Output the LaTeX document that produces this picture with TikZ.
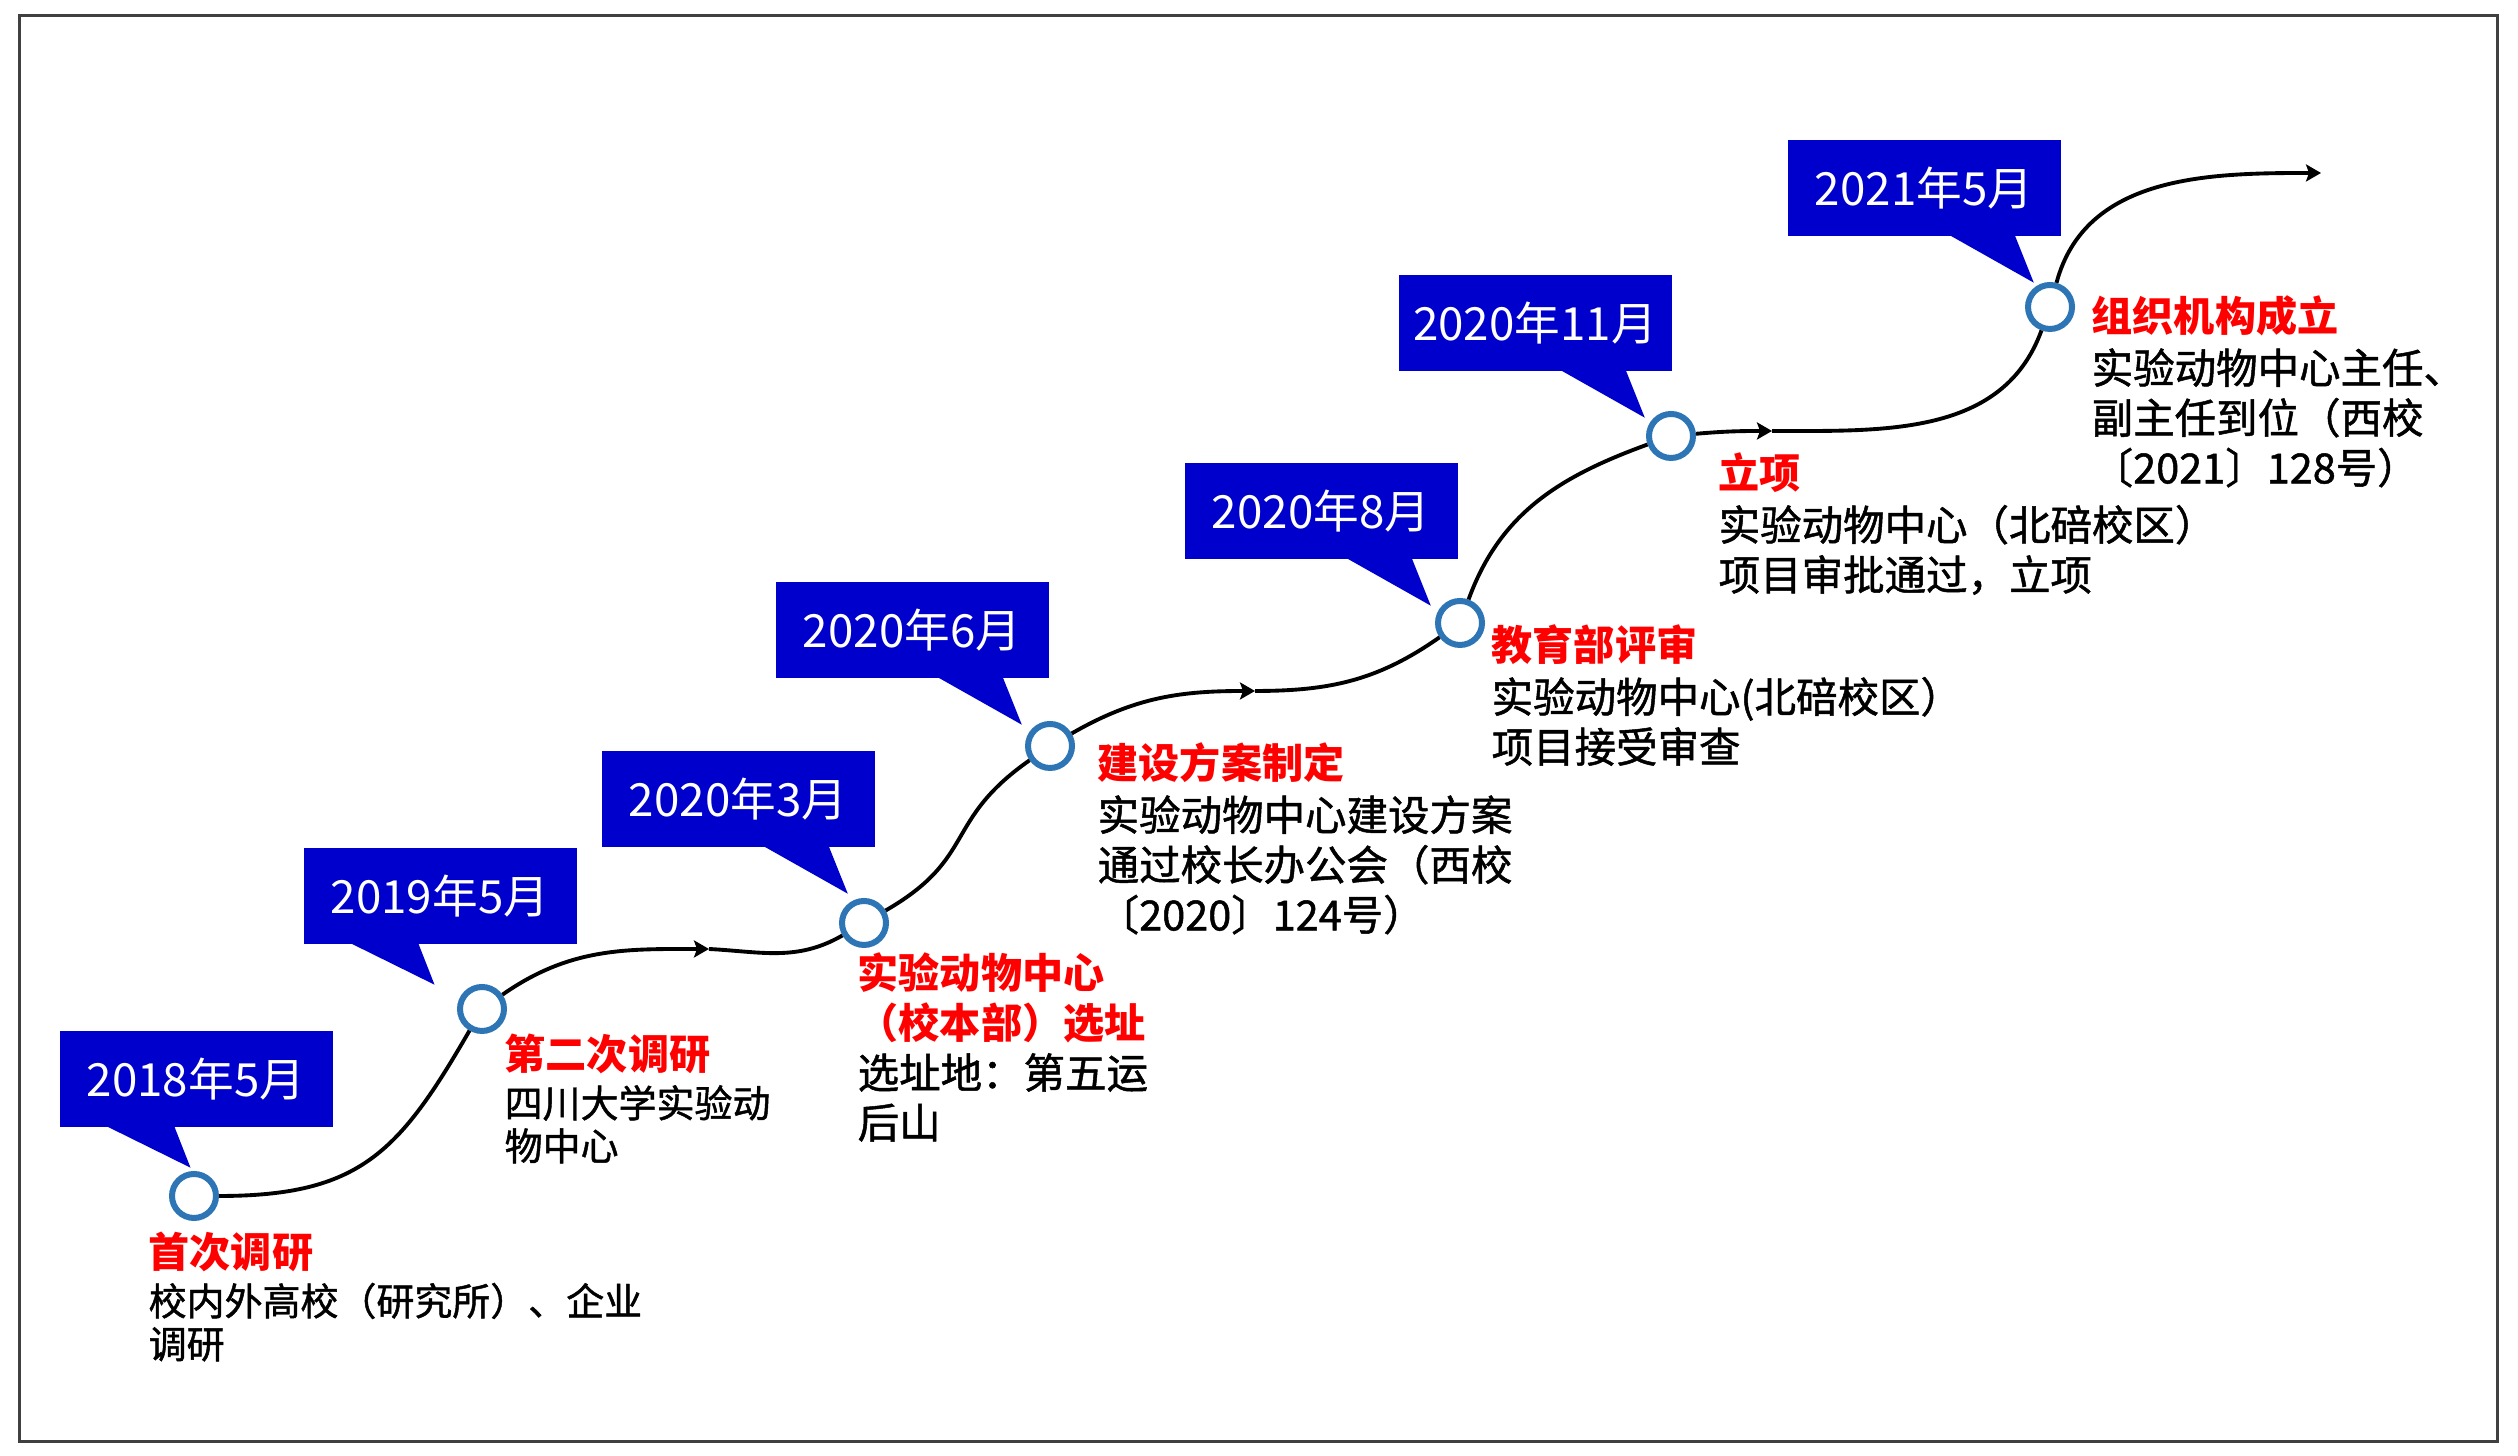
\documentclass[tikz,border=0pt]{standalone}
\usepackage{fontspec}
\usepackage{tikz}
\usetikzlibrary{arrows.meta,positioning,calc}
\newfontfamily\cjk{Noto Sans CJK SC}
\newfontfamily\cjkbody[FakeBold=1.2]{Noto Sans CJK SC}
\definecolor{dateblue}{RGB}{0, 0, 204}
\definecolor{ringblue}{RGB}{46, 117, 182}
\tikzset{
  datebox/.style={fill=dateblue, text=white, inner sep=0, minimum width=2.73cm, minimum height=0.96cm, font=\cjk\fontsize{13}{15}\selectfont},
  milestone/.style={circle, draw=ringblue, line width=0.06cm, fill=white, inner sep=0, minimum size=0.44cm},
  trail/.style={line width=1.1pt, black},
  stagenote/.style={anchor=north west, align=left, inner sep=0, font=\cjkbody\fontsize{11.8}{14.2}\selectfont},
  smallnote/.style={stagenote, font=\cjkbody\fontsize{10.8}{12.2}\selectfont},
  >={Stealth[length=1.5mm,width=1.7mm,inset=0.3mm]}
}
% red heading of a stage
\newcommand\hd[1]{{\cjk\color{red}\bfseries\fontsize{11.7}{14.2}\selectfont #1}}
% callout tails, left or right of the date box
\newcommand\tailL[1]{\fill[dateblue] ($(#1.south west)!0.17!(#1.south east)+(0,0.02)$) -- ($(#1.south west)!0.42!(#1.south east)+(0,0.02)$) -- ($(#1.south west)!0.48!(#1.south east)+(0,-0.40)$) -- cycle;}
\newcommand\tailR[1]{\fill[dateblue] ($(#1.south west)!0.59!(#1.south east)+(0,0.02)$) -- ($(#1.south west)!0.83!(#1.south east)+(0,0.02)$) -- ($(#1.south west)!0.90!(#1.south east)+(0,-0.46)$) -- cycle;}

\begin{document}
\begin{tikzpicture}
    \useasboundingbox (0,0) rectangle (25.18,14.56);
    % Frame
    \draw[line width=0.03cm, black!75] (0.19,0.14) rectangle (24.97,14.40);

    % Milestones
    \node[milestone] (c1) at (1.94,2.60) {};
    \node[milestone] (c2) at (4.82,4.47) {};
    \node[milestone] (c3) at (8.64,5.33) {};
    \node[milestone] (c4) at (10.50,7.10) {};
    \node[milestone] (c5) at (14.60,8.33) {};
    \node[milestone] (c6) at (16.71,10.20) {};
    \node[milestone] (c7) at (20.50,11.49) {};
    \coordinate (a1) at (7.09,5.07);
    \coordinate (a2) at (12.55,7.65);
    \coordinate (a3) at (17.72,10.25);
    \coordinate (tip) at (23.21,12.83);

    % Timeline
    \draw[trail] (c1) to[out=0,in=-120,looseness=1.2] (c2);
    \draw[trail,->] (c2) to[out=35,in=180] (a1);
    \draw[trail] (a1) to[out=-3,in=210] (c3);
    \draw[trail] (c3) to[out=30,in=215,looseness=1.3] (c4);
    \draw[trail,->] (c4) to[out=30,in=180] (a2);
    \draw[trail] (a2) to[out=0,in=215] (c5);
    \draw[trail] (c5) to[out=70,in=200] (c6);
    \draw[trail,->] (c6) to[out=5,in=180] (a3);
    \draw[trail] (a3) to[out=0,in=-110] (c7);
    \draw[trail,->] (c7) to[out=75,in=180] (tip);

    % Dates
    \node[datebox] (d1) at (1.96,3.77) {2018年5月};
    \tailL{d1}
    \node[datebox] (d2) at (4.40,5.60) {2019年5月};
    \tailL{d2}
    \node[datebox] (d3) at (7.38,6.57) {2020年3月};
    \tailR{d3}
    \node[datebox] (d4) at (9.12,8.26) {2020年6月};
    \tailR{d4}
    \node[datebox] (d5) at (13.21,9.45) {2020年8月};
    \tailR{d5}
    \node[datebox] (d6) at (15.35,11.33) {2020年11月};
    \tailR{d6}
    \node[datebox] (d7) at (19.24,12.68) {2021年5月};
    \tailR{d7}

    % Stage notes
    \node[smallnote] (t1) at (1.48,2.25) {\hd{首次调研}\\[1.5pt]校内外高校（研究所）、企业\\调研};
    \node[smallnote] (t2) at (5.04,4.23) {\hd{第二次调研}\\[1.5pt]四川大学实验动\\物中心};
    \node[stagenote] (t3) at (8.57,5.04) {\hd{实验动物中心}\\\hd{（校本部）选址}\\选址地：第五运\\后山};
    \node[stagenote] (t4) at (10.97,7.14) {\hd{建设方案制定}\\[0.6pt]实验动物中心建设方案\\通过校长办公会（西校\\〔2020〕124号）};
    \node[stagenote] (t5) at (14.91,8.32) {\hd{教育部评审}\\[0.6pt]实验动物中心(北碚校区）\\项目接受审查};
    \node[stagenote] (t6) at (17.18,10.04) {\hd{立项}\\[0.6pt]实验动物中心（北碚校区）\\项目审批通过，立项};
    \node[stagenote] (t7) at (20.91,11.61) {\hd{组织机构成立}\\[0.6pt]实验动物中心主任、\\副主任到位（西校\\〔2021〕128号）};
\end{tikzpicture}
\end{document}
